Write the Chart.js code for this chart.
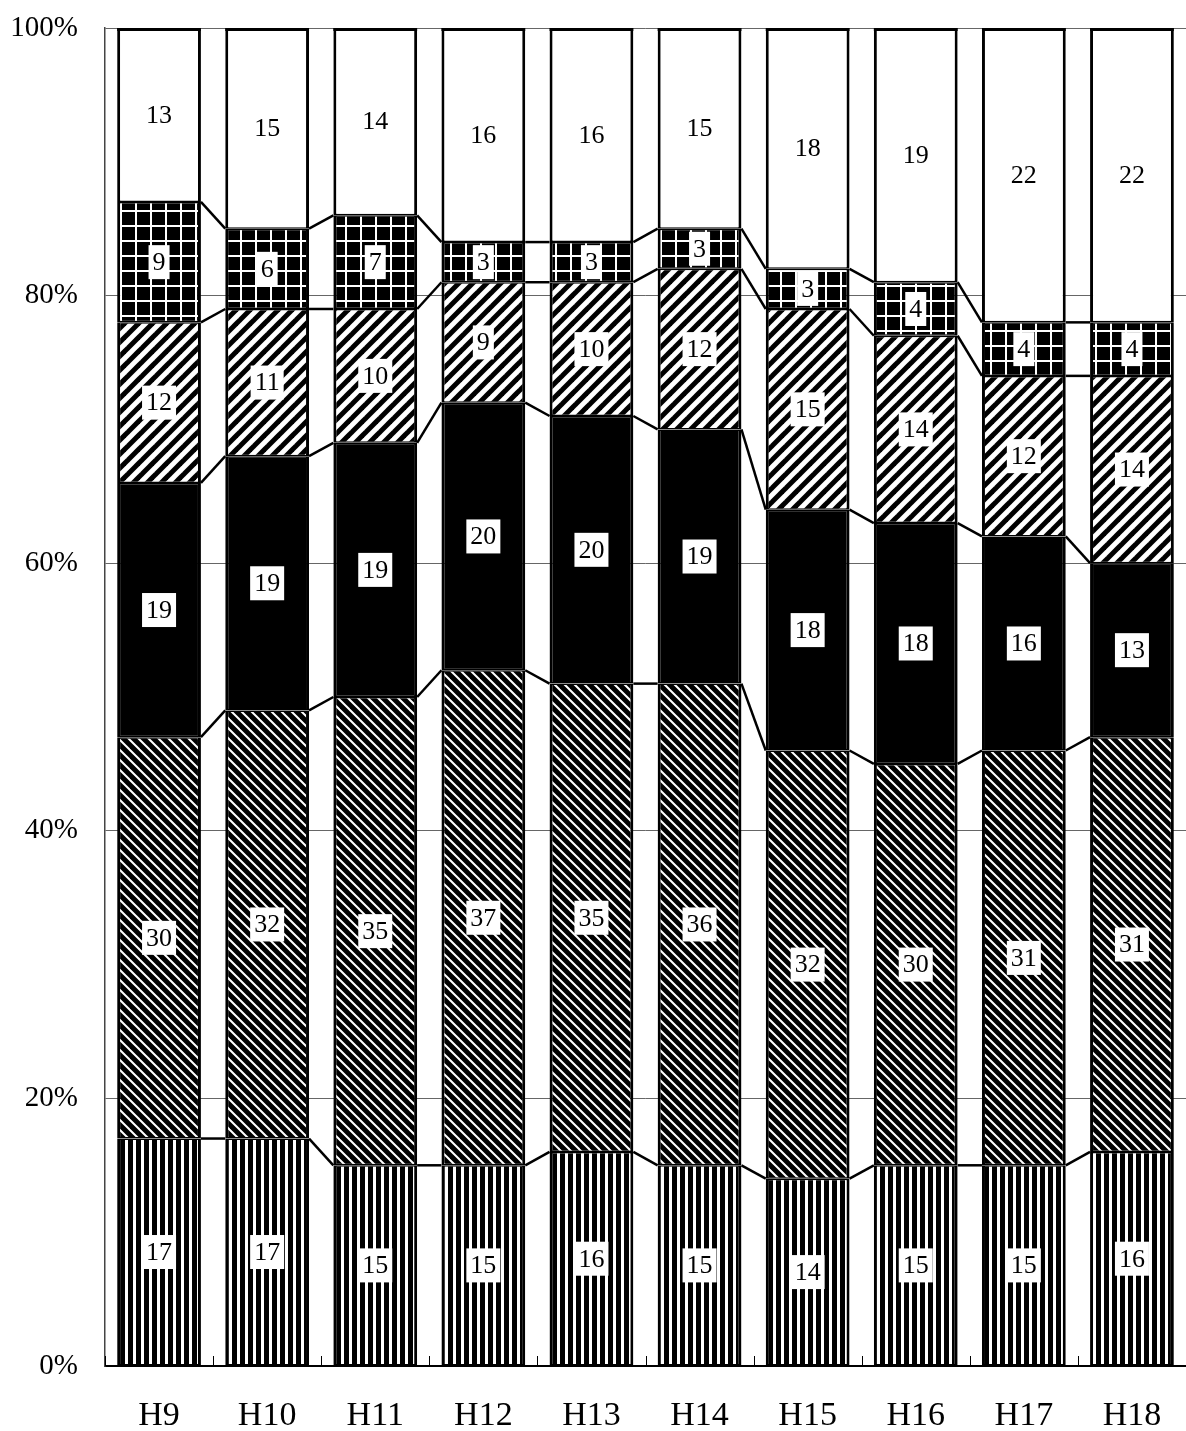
<!DOCTYPE html>
<html>
<head>
<meta charset="utf-8">
<script src="https://cdn.jsdelivr.net/npm/chart.js@4"></script>
<style>
  html, body { margin: 0; padding: 0; background: #fff; }
  #wrap { width: 1186px; height: 1431px; }
</style>
</head>
<body>
<div id="wrap"><canvas id="shareChart" width="1186" height="1431"></canvas></div>
<script>
// 年度
const years = ['H9', 'H10', 'H11', 'H12', 'H13', 'H14', 'H15', 'H16', 'H17', 'H18'];

// 構成比（%）下から順に
const part1 = [17, 17, 15, 15, 16, 15, 14, 15, 15, 16];
const part2 = [30, 32, 35, 37, 35, 36, 32, 30, 31, 31];
const part3 = [19, 19, 19, 20, 20, 19, 18, 18, 16, 13];
const part4 = [12, 11, 10, 9, 10, 12, 15, 14, 12, 14];
const part5 = [9, 6, 7, 3, 3, 3, 3, 4, 4, 4];
const part6 = [13, 15, 14, 16, 16, 15, 18, 19, 22, 22];

const yTicks = [0, 20, 40, 60, 80, 100];

const SERIF = '"Liberation Serif", "DejaVu Serif", serif';

// ハッチング用パターン
function makeTile(w, h, draw) {
  const c = document.createElement('canvas');
  c.width = w; c.height = h;
  const g = c.getContext('2d');
  draw(g, w, h);
  return g.createPattern(c, 'repeat');
}

const ctxMain = document.getElementById('shareChart').getContext('2d');

// 縦じま
const patVertical = makeTile(8, 8, (g) => {
  g.fillStyle = '#fff'; g.fillRect(0, 0, 8, 8);
  g.fillStyle = '#000'; g.fillRect(0, 0, 5, 8);
});

// 黒地に白の右下がり斜線
const patBackslash = makeTile(10, 10, (g) => {
  g.fillStyle = '#000'; g.fillRect(0, 0, 10, 10);
  g.strokeStyle = '#fff'; g.lineWidth = 2;
  [-10, 0, 10].forEach(o => {
    g.beginPath(); g.moveTo(o - 2, -2); g.lineTo(o + 12, 12); g.stroke();
  });
});

// 黒一色
const patSolid = '#000';

// 白地に黒の右上がり斜線
const patSlash = makeTile(14, 14, (g) => {
  g.fillStyle = '#fff'; g.fillRect(0, 0, 14, 14);
  g.strokeStyle = '#000'; g.lineWidth = 5;
  [-14, 0, 14].forEach(o => {
    g.beginPath(); g.moveTo(o - 2, 16); g.lineTo(o + 16, -2); g.stroke();
  });
});

// 黒地に白の格子
const patGrid = makeTile(15, 15, (g) => {
  g.fillStyle = '#000'; g.fillRect(0, 0, 15, 15);
  g.fillStyle = '#fff';
  g.fillRect(0, 0, 2, 15);
  g.fillRect(0, 0, 15, 2);
});

const fills = [patVertical, patBackslash, patSolid, patSlash, patGrid, '#fff'];
const parts = [part1, part2, part3, part4, part5, part6];

// 区分線（隣り合う棒の境目を結ぶ線）と目盛り
const seriesLines = {
  id: 'seriesLines',
  afterDatasetsDraw(chart) {
    const c = chart.ctx;
    c.save();
    c.strokeStyle = '#000';
    c.lineWidth = 2.5;
    for (let d = 0; d < chart.data.datasets.length - 1; d++) {
      const bars = chart.getDatasetMeta(d).data;
      for (let i = 0; i < bars.length - 1; i++) {
        const a = bars[i], b = bars[i + 1];
        c.beginPath();
        c.moveTo(a.x + a.width / 2, a.y);
        c.lineTo(b.x - b.width / 2, b.y);
        c.stroke();
      }
    }
    // 棒の上端
    c.lineWidth = 3;
    const top = chart.getDatasetMeta(chart.data.datasets.length - 1).data;
    top.forEach(bar => {
      c.beginPath();
      c.moveTo(bar.x - bar.width / 2, bar.y + 1.5);
      c.lineTo(bar.x + bar.width / 2, bar.y + 1.5);
      c.stroke();
    });
    // x軸の内向き目盛り
    const area = chart.chartArea;
    c.lineWidth = 1;
    for (let i = 0; i <= years.length; i++) {
      const px = Math.round(area.left + (area.right - area.left) * i / years.length) + 0.5;
      c.beginPath();
      c.moveTo(px, area.bottom);
      c.lineTo(px, area.bottom - 10);
      c.stroke();
    }
    c.restore();
  }
};

// 数値ラベル（白抜きの箱）
const valueLabels = {
  id: 'valueLabels',
  afterDraw(chart) {
    const c = chart.ctx;
    c.save();
    c.font = '26px ' + SERIF;
    c.textAlign = 'center';
    c.textBaseline = 'middle';
    chart.data.datasets.forEach((ds, d) => {
      chart.getDatasetMeta(d).data.forEach((bar, i) => {
        const txt = String(ds.data[i]);
        const cy = (bar.y + bar.base) / 2;
        const w = c.measureText(txt).width + 8;
        c.fillStyle = '#fff';
        c.fillRect(bar.x - w / 2, cy - 17, w, 34);
        c.fillStyle = '#000';
        c.fillText(txt, bar.x, cy + 1);
      });
    });
    c.restore();
  }
};

new Chart(ctxMain, {
  type: 'bar',
  data: {
    labels: years,
    datasets: parts.map((vals, k) => ({
      data: vals,
      backgroundColor: fills[k],
      borderColor: '#000',
      borderWidth: { left: 3, right: 3, top: 1.5, bottom: 1.5 },
      borderSkipped: false,
      barPercentage: 0.775,
      categoryPercentage: 1
    }))
  },
  options: {
    responsive: false,
    animation: false,
    layout: { padding: { top: 28, right: 0, left: 0, bottom: 0 } },
    plugins: {
      legend: { display: false },
      tooltip: { enabled: false }
    },
    scales: {
      x: {
        stacked: true,
        grid: { display: false },
        border: { display: true, color: '#000', width: 2 },
        ticks: {
          color: '#000',
          font: { family: SERIF, size: 34 },
          padding: 22
        },
        afterFit(scale) {
          scale.height = 65;
          scale.paddingLeft = 0;
          scale.paddingRight = 0;
        }
      },
      y: {
        stacked: true,
        min: 0,
        max: 100,
        afterBuildTicks(scale) {
          scale.ticks = yTicks.map(v => ({ value: v }));
        },
        ticks: {
          color: '#000',
          font: { family: SERIF, size: 29 },
          padding: 27,
          callback: v => v + '%'
        },
        grid: { color: '#666', lineWidth: 1, drawTicks: false },
        border: { color: '#444', width: 1.5 },
        afterFit(scale) {
          scale.width = 105;
          scale.paddingTop = 0;
          scale.paddingBottom = 0;
        }
      }
    }
  },
  plugins: [seriesLines, valueLabels]
});
</script>
</body>
</html>
